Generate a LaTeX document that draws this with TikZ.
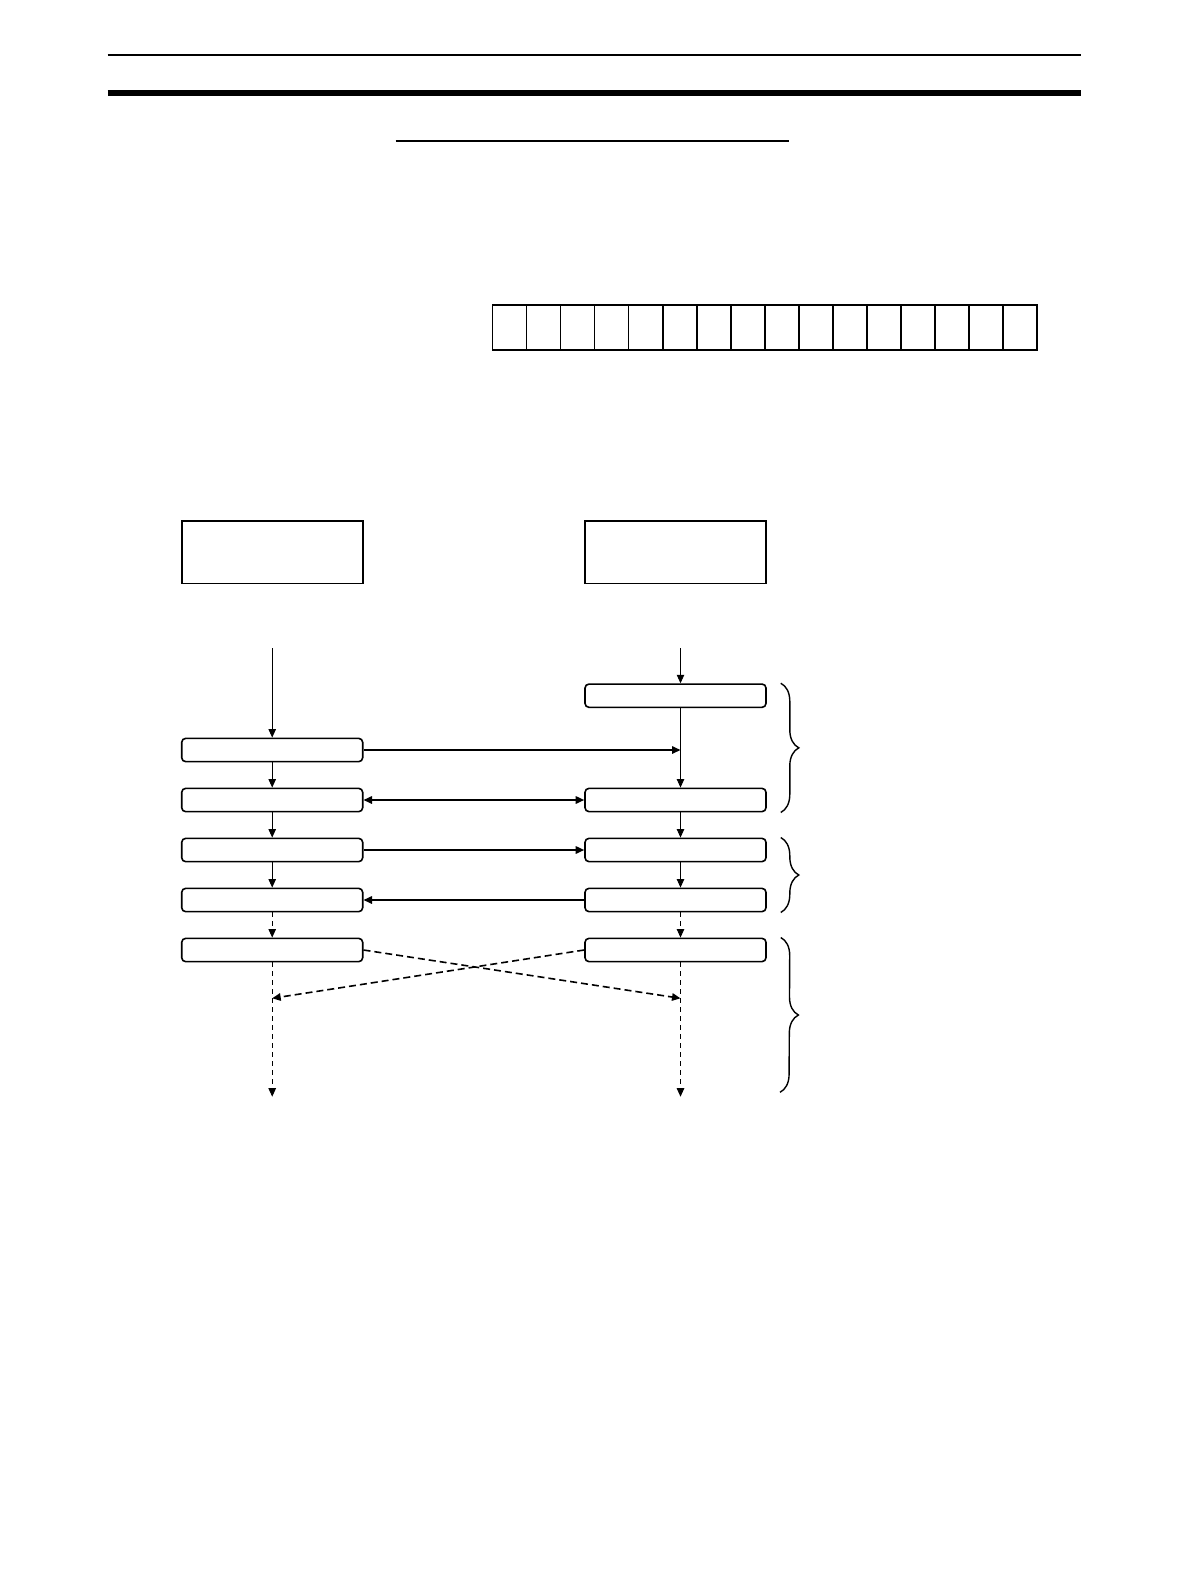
\documentclass[tikz,border=0pt]{standalone}
\usetikzlibrary{arrows.meta,decorations.pathreplacing}

\begin{document}
\begin{tikzpicture}[x=1pt,y=-1pt,>={Triangle[length=8.5pt,width=7.5pt]},
    node distance=50pt,
    unit/.style={draw,line width=1.6pt,minimum width=181pt,minimum height=62.6pt,inner sep=0pt},
    msg/.style={draw,line width=1.6pt,rounded corners=4pt,minimum width=181pt,minimum height=23.3pt,inner sep=0pt},
    cell/.style={draw,line width=1.6pt,minimum width=34.05pt,minimum height=45pt,inner sep=0pt},
    life/.style={line width=0.9pt},
    sig/.style={line width=1.6pt},
    dsh/.style={dash pattern=on 5pt off 4pt},
    brc/.style={line width=1.4pt,decorate,decoration={brace,amplitude=18pt}}]

  \useasboundingbox (0,0) rectangle (1190,1586);

  % page rules
  \draw[line width=2pt] (107.5,55.5) -- (1080.5,55.5);
  \draw[line width=6pt] (107.5,93) -- (1080.5,93);
  \draw[line width=1.5pt] (395.5,141) -- (788.5,141);

  % register
  \foreach \i in {0,...,15}
    \node[cell] (bit\i) at (509.5+34.05*\i,327.5) {};

  \node[unit] (master) at (272.2,552) {};
  \node[unit] (slave) at (675.5,552) {};

  \node[msg] (r_1) at (675.5,695.7) {};
  \node[msg] (l_1) at (272.2,750) {};
  \node[msg] (l_2) [below of=l_1] {};
  \node[msg] (l_3) [below of=l_2] {};
  \node[msg] (l_4) [below of=l_3] {};
  \node[msg] (l_5) [below of=l_4] {};
  \node[msg] (r_2) [node distance=403.3pt,right of=l_2] {};
  \node[msg] (r_3) [below of=r_2] {};
  \node[msg] (r_4) [below of=r_3] {};
  \node[msg] (r_5) [below of=r_4] {};

  \coordinate (l_top) at (272.2,648.3);
  \coordinate (r_top) at (680.5,648.3);
  \coordinate (l_x) at (272.2,998.3);
  \coordinate (r_x) at (680.5,998.3);
  \coordinate (l_end) at (272.2,1096.7);
  \coordinate (r_end) at (680.5,1096.7);
  \coordinate (b_end) at (780,1092.3);

  % lifelines
  \path[->,life] (l_top) edge (l_1)
      (l_1) edge (l_2)
      (l_2) edge (l_3)
      (l_3) edge (l_4)
      (l_4) edge [dsh] (l_5)
      (l_5) edge [dsh] (l_end)
      (r_top) edge (r_top |- r_1.north)
      (r_1.south -| r_top) edge (r_top |- r_2.north)
      (r_2.south -| r_top) edge (r_top |- r_3.north)
      (r_3.south -| r_top) edge (r_top |- r_4.north)
      (r_4.south -| r_top) edge [dsh] (r_top |- r_5.north)
      (r_5.south -| r_top) edge [dsh] (r_end);

  % messages
  \path[->,sig] (l_1.east) edge (l_1.east -| r_top)
      (l_2) edge [<->] (r_2)
      (l_3) edge (r_3)
      (r_4) edge (l_4)
      (l_5.east) edge [dash pattern=on 7pt off 4pt] (r_x)
      (r_5.west) edge [dash pattern=on 7pt off 4pt] (l_x);

  \draw[brc] ([xshift=14pt]r_1.north east) -- ([xshift=14pt]r_2.south east);
  \draw[brc] ([xshift=14pt]r_3.north east) -- ([xshift=14pt]r_4.south east);
  \draw[brc] ([xshift=14pt]r_5.north east) -- (b_end);

\end{tikzpicture}
\end{document}
